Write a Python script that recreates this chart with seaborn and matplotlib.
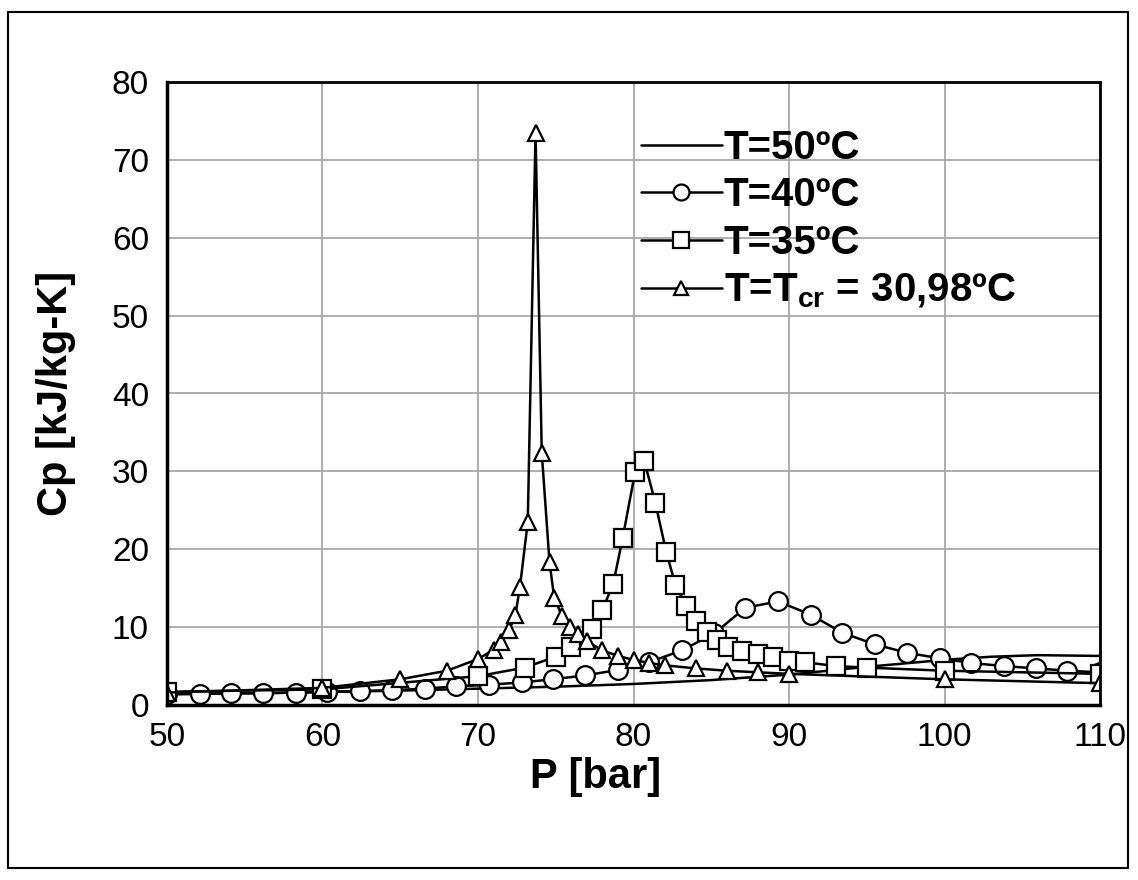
import matplotlib
matplotlib.use("Agg")
import matplotlib.pyplot as plt
from matplotlib.patches import Rectangle
import pandas as pd
import seaborn as sns

# Specific heat of CO2 versus pressure along four isotherms
p_50 = [50, 55, 60, 65, 70, 75, 80, 85, 90, 95, 100, 103, 106, 110]
cp_50 = [1.4, 1.5, 1.65, 1.85, 2.1, 2.35, 2.7, 3.2, 3.9, 4.9, 5.8, 6.2, 6.4, 6.3]

p_40 = [50.0, 52.1, 54.1, 56.2, 58.3, 60.3, 62.4, 64.5, 66.6, 68.6, 70.7, 72.8,
        74.8, 76.9, 79.0, 81.0, 83.1, 85.2, 87.2, 89.3, 91.4, 93.4, 95.5, 97.6,
        99.7, 101.7, 103.8, 105.9, 107.9, 110.0]
cp_40 = [1.4, 1.4, 1.5, 1.5, 1.6, 1.7, 1.8, 1.9, 2.1, 2.4, 2.6, 2.9,
         3.3, 3.8, 4.5, 5.5, 7.0, 9.2, 12.5, 13.3, 11.6, 9.3, 7.8, 6.7,
         6.0, 5.4, 5.0, 4.7, 4.4, 4.2]

p_35 = [50, 60, 70, 73, 75, 76, 77.3, 78, 78.7, 79.3, 80.1, 80.7, 81.4, 82.1,
        82.7, 83.4, 84.0, 84.7, 85.4, 86.1, 87, 88, 89, 90, 91, 93, 95, 100, 110]
cp_35 = [1.7, 2.0, 3.7, 4.8, 6.2, 7.4, 9.7, 12.2, 15.6, 21.4, 29.9, 31.3, 26.0,
         19.7, 15.4, 12.7, 10.8, 9.4, 8.4, 7.4, 6.9, 6.5, 6.1, 5.7, 5.5, 5.0,
         4.8, 4.4, 4.0]

p_cr = [50, 60, 65, 68, 70, 71, 71.5, 72, 72.4, 72.7, 73.2, 73.7, 74.1, 74.6,
        74.9, 75.4, 75.9, 76.4, 77, 78, 79, 80, 81, 82, 84, 86, 88, 90, 100, 110]
cp_cr = [1.6, 2.2, 3.3, 4.4, 5.9, 7.1, 8.1, 9.6, 11.5, 15.2, 23.5, 73.5, 32.4,
         18.3, 13.8, 11.4, 10.0, 9.1, 8.2, 7.0, 6.3, 5.8, 5.4, 5.1, 4.7, 4.4,
         4.2, 4.0, 3.3, 2.8]

labels = ["T=50ºC", "T=40ºC", "T=35ºC", r"T=T$_{\mathrm{cr}}$ = 30,98ºC"]
x_ticks = [50, 60, 70, 80, 90, 100, 110]
y_ticks = [0, 10, 20, 30, 40, 50, 60, 70, 80]

sns.set_theme(style="whitegrid")
plt.rcParams["font.family"] = ["Liberation Sans", "DejaVu Sans"]
plt.rcParams["mathtext.fontset"] = "custom"
plt.rcParams["mathtext.rm"] = "Liberation Sans:bold"
plt.rcParams["mathtext.bf"] = "Liberation Sans:bold"

W, H = 1138, 880
fig = plt.figure(figsize=(W / 100, H / 100), dpi=100)
fig.patch.set_facecolor("white")
ax = fig.add_axes([167 / W, 1 - 705 / H, (1100 - 167) / W, (705 - 82) / H])
ax.set_facecolor("white")

line_kw = dict(color="black", linewidth=1.8, estimator=None, sort=False, ax=ax)
marker_kw = dict(markerfacecolor="white", markeredgecolor="black", markeredgewidth=1.6)

sns.lineplot(data=pd.DataFrame({"P": p_50, "Cp": cp_50}), x="P", y="Cp",
             label=labels[0], **line_kw)
sns.lineplot(data=pd.DataFrame({"P": p_40, "Cp": cp_40}), x="P", y="Cp",
             label=labels[1], marker="o", markersize=13.5, **marker_kw, **line_kw)
sns.lineplot(data=pd.DataFrame({"P": p_35, "Cp": cp_35}), x="P", y="Cp",
             label=labels[2], marker="s", markersize=13, **marker_kw, **line_kw)
sns.lineplot(data=pd.DataFrame({"P": p_cr, "Cp": cp_cr}), x="P", y="Cp",
             label=labels[3], marker="^", markersize=11.5, **marker_kw, **line_kw)

ax.set_xlim(50, 110)
ax.set_ylim(0, 80)
ax.set_xticks(x_ticks)
ax.set_yticks(y_ticks)
ax.grid(True, color="#a8a8a8", linewidth=1.3)
ax.tick_params(axis="both", length=0, labelsize=24, labelcolor="black")
ax.tick_params(axis="x", pad=12)
ax.tick_params(axis="y", pad=13)

for side in ["left", "bottom"]:
    ax.spines[side].set_color("black")
    ax.spines[side].set_linewidth(2.5)
for side in ["top", "right"]:
    ax.spines[side].set_color("black")
    ax.spines[side].set_linewidth(2.0)

ax.set_xlabel("P [bar]", fontsize=30, fontweight="bold", color="black")
ax.set_ylabel("Cp [kJ/kg-K]", fontsize=30, fontweight="bold", color="black")
ax.xaxis.set_label_coords((596 - 167) / 933, (705 - 757) / 623)
ax.yaxis.set_label_coords((76 - 167) / 933, 0.5)

leg = ax.legend(loc="upper left", bbox_to_anchor=(0.508, 0.925), frameon=False,
                prop=dict(weight="bold", size=29), handlelength=2.0,
                handletextpad=0.05, labelspacing=0.24, borderaxespad=0,
                borderpad=0, markerscale=0.85)
for t in leg.get_texts():
    t.set_color("black")

# outer frame around the figure
fig.add_artist(Rectangle((8 / W, 1 - 868 / H), (1128 - 8) / W, (868 - 12) / H,
                         transform=fig.transFigure, fill=False,
                         edgecolor="black", linewidth=1.5))

fig.savefig("out.png", dpi=100, facecolor="white")
